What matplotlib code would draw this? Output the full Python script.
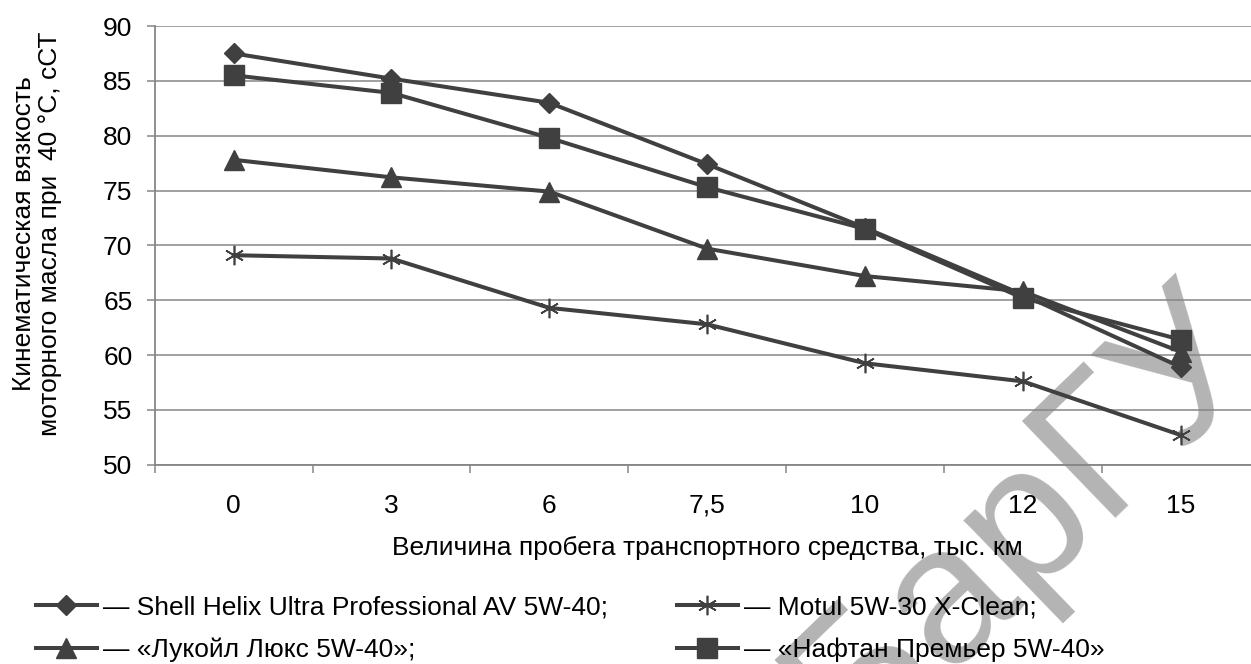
import matplotlib
matplotlib.use('Agg')
import matplotlib.pyplot as plt

# mileage categories (thousand km) and kinematic viscosity at 40 °C, cSt
km = ['0', '3', '6', '7,5', '10', '12', '15']
shell = [87.5, 85.2, 83.0, 77.4, 71.6, 65.5, 58.9]
lukoil = [77.8, 76.2, 74.9, 69.7, 67.2, 65.8, 60.3]
motul = [69.1, 68.8, 64.3, 62.8, 59.25, 57.6, 52.7]
naftan = [85.5, 83.9, 79.8, 75.3, 71.5, 65.2, 61.4]

plt.rcParams['font.family'] = ['Liberation Sans', 'DejaVu Sans']
FS = 19
LINE = '#404040'
GRID = '#868686'

W, H = 1251, 664
fig = plt.figure(figsize=(W / 100, H / 100), dpi=100)
ax = fig.add_axes([154.7 / W, 1 - 464.7 / H, (1259.6 - 154.7) / W, (464.7 - 26) / H])
ax.set_facecolor('none')

x = list(range(len(km)))
h1, = ax.plot(x, shell, color=LINE, lw=2.9, marker='D', ms=10.5, mew=1, zorder=5)
h2, = ax.plot(x, lukoil, color=LINE, lw=2.9, marker='^', ms=15, mew=1, zorder=5)
h3, = ax.plot(x, motul, color=LINE, lw=2.9, marker=(6, 2, 0), ms=14, mew=1.2, zorder=5)
h4, = ax.plot(x, naftan, color=LINE, lw=2.9, marker='s', ms=14.5, mew=1, zorder=5)

ax.set_xlim(-0.5, len(km) - 0.5)
ax.set_ylim(50, 90)
ax.set_yticks(range(50, 91, 5))
ax.yaxis.grid(True, color=GRID, lw=1.1)
ax.set_axisbelow(True)
ax.set_xticks(x)
ax.set_xticklabels(km)
ax.set_xticks([i + 0.5 for i in range(-1, len(km))], minor=True)
ax.tick_params(axis='x', which='major', length=0, pad=21, labelsize=FS)
ax.tick_params(axis='x', which='minor', length=6, width=1.1, color=GRID, direction='out')
ax.tick_params(axis='y', length=6, width=1.1, color=GRID, pad=10, labelsize=FS)
for s in ['top', 'right']:
    ax.spines[s].set_visible(False)
for s in ['left', 'bottom']:
    ax.spines[s].set_color(GRID)
    ax.spines[s].set_linewidth(1.3)

fig.text(707 / W, 1 - 548 / H, 'Величина пробега транспортного средства, тыс. км',
         ha='center', va='center', fontsize=FS)
fig.text(37 / W, 1 - 234 / H, 'Кинематическая вязкость\nмоторного масла при  40 °С, сСТ',
         ha='center', va='center', rotation=90, fontsize=FS, multialignment='center',
         linespacing=1.1)

fig.legend([h1, h2, h3, h4],
           ['— Shell Helix Ultra Professional AV 5W-40;', '— «Лукойл Люкс 5W-40»;',
            '— Motul 5W-30 X-Clean;', '— «Нафтан Премьер 5W-40»'],
           ncol=2, loc='upper left', bbox_to_anchor=(36 / W, 1 - 595 / H),
           frameon=False, fontsize=FS, borderpad=0, borderaxespad=0,
           handlelength=2.3, handletextpad=0.25, columnspacing=2.6, labelspacing=0.72)

# watermark
fig.text(1023 / W, 1 - 521 / H, 'БарГУ', ha='center', va='center', rotation=44,
         fontsize=140, color='#b4b4b4', zorder=-1)

fig.savefig('out.png', dpi=100)
